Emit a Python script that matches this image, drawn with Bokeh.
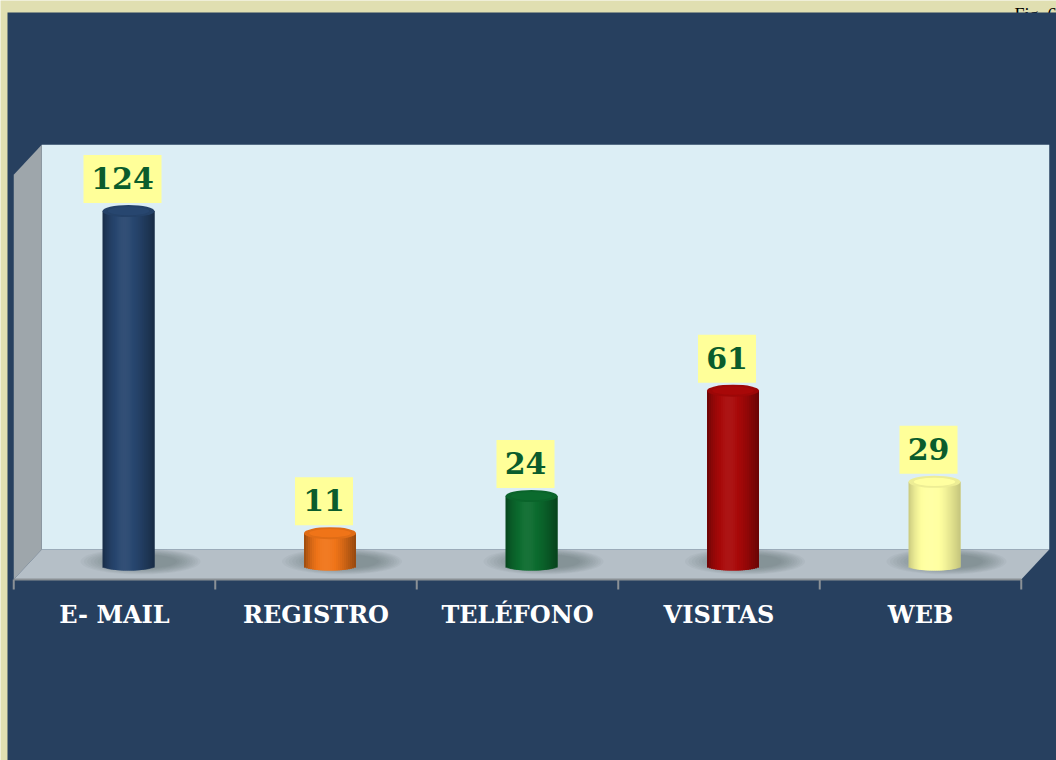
import math
from bokeh.plotting import figure
from bokeh.models import Range1d
from bokeh.core.properties import value
from bokeh.embed import file_html
from bokeh.resources import INLINE

# ---------------- data ----------------
categories = ["E- MAIL", "REGISTRO", "TELÉFONO", "VISITAS", "WEB"]
counts = [124, 11, 24, 61, 29]
bar_colors = ["#27466f", "#f07418", "#0b6b2e", "#a80808", "#ffffa0"]
wall_max = 142
fig_note = "Fig. 6"

# ---------------- geometry (pixels) ----------------
PAGE_X0, PAGE_Y0 = 0, 0
W, H = 1056, 760
CAT_PX0 = 128.0      # page x of first bar centre
CAT_STEP = 201.5     # px per category
ZERO_PY = 564.0      # page y of value 0 (mid depth)
VAL_PX = 2.85        # px per unit
DX_PX, DY_PX = 14.0, 15.0   # half depth offsets
BAR_W_PX = 52.0
ELL_H_PX = 12.0

dx = DX_PX / CAT_STEP
dy = DY_PX / VAL_PX
bw = BAR_W_PX / CAT_STEP
eh = ELL_H_PX / VAL_PX

def px_x(px):
    return (px - CAT_PX0) / CAT_STEP

def px_y(py):
    return (ZERO_PY - py) / VAL_PX

x_range = Range1d(px_x(PAGE_X0), px_x(PAGE_X0 + W))
y_range = Range1d(px_y(PAGE_Y0 + H), px_y(PAGE_Y0))

p = figure(width=W, height=H, x_range=x_range, y_range=y_range,
           x_axis_type=None, y_axis_type=None, toolbar_location=None,
           output_backend="svg", min_border=0)
p.grid.visible = False
p.outline_line_color = None
p.background_fill_color = "#e0dfb1"
p.border_fill_color = "#e0dfb1"

# note text (partly covered by the panel)
p.text(x=[px_x(1014)], y=[px_y(14)], text=[fig_note], text_font=value("Liberation Serif"),
       text_font_size="18px", text_color="#000000", text_baseline="alphabetic")

# dark panel
p.quad(left=[px_x(7)], right=[px_x(W + 2)],
       bottom=[px_y(H + 2)], top=[px_y(12)],
       fill_color="#27405f", line_color=None)

n = len(categories)
lo, hi = -0.5, n - 0.5

# back wall
p.quad(left=[lo + dx], right=[hi + dx], bottom=[dy], top=[wall_max + dy],
       fill_color="#dceef5", line_color=None)
# left wall
p.patch(x=[lo - dx, lo + dx, lo + dx, lo - dx], y=[-dy, dy, wall_max + dy, wall_max - dy],
        fill_color="#9ea6ab", line_color=None)
# floor
p.patch(x=[lo + dx, hi + dx, hi - dx, lo - dx], y=[dy, dy, -dy, -dy],
        fill_color="#b5bfc7", line_color=None)
# floor front edge + ticks
p.line(x=[lo - dx, hi - dx], y=[-dy, -dy], line_color="#8b9196", line_width=2)
tick_x = [k - 0.5 - dx for k in range(n + 1)]
p.segment(x0=tick_x, y0=[-dy] * (n + 1), x1=tick_x, y1=[-dy - 10 / VAL_PX] * (n + 1),
          line_color="#8b9196", line_width=2)

# shadows (soft, offset to the right/back)
for s in range(10):
    f = 1 - s / 10
    p.ellipse(x=[i + (12 + 4 * (1 - f)) / CAT_STEP for i in range(n)], y=[3 / VAL_PX] * n,
              width=(60 + 60 * f) / CAT_STEP, height=(12 + 14 * f) / VAL_PX,
              fill_color="#56606a", fill_alpha=0.06, line_color=None)

def hex_rgb(h):
    h = h.lstrip("#")
    return [int(h[i:i + 2], 16) for i in (0, 2, 4)]

def shade(h, k):
    r = hex_rgb(h)
    out = []
    for c in r:
        if k < 1:
            v = c * k
        else:
            v = c + (255 - c) * (k - 1)
        out.append(max(0, min(255, int(round(v)))))
    return "#%02x%02x%02x" % tuple(out)

# cylinder bodies as overlapping vertical strips
NS = 26
OVL = 2.0 / CAT_STEP
sl, sr, sb, st, sc = [], [], [], [], []
for i, (v, col) in enumerate(zip(counts, bar_colors)):
    light = sum(hex_rgb(col)) / 3 > 180
    for j in range(NS):
        t0, t1 = j / NS, (j + 1) / NS
        t = (t0 + t1) / 2
        u = t ** (math.log(0.5) / math.log(0.42))
        k = 0.62 + 0.43 * math.sin(math.pi * u)
        if light and k < 1:
            k = 1 - (1 - k) * 0.6
        right = i - bw / 2 + t1 * bw
        te = t1
        if j < NS - 1:
            right += OVL
            te = min(1.0, t1 + OVL / bw)
        xa = abs((t0 - 0.5) * 2)
        xb = abs((te - 0.5) * 2)
        xm = min(xa, xb) if (t0 - 0.5) * (te - 0.5) > 0 else 0.0
        sl.append(i - bw / 2 + t0 * bw)
        sr.append(right)
        sb.append(-(eh / 2) * math.sqrt(max(0.0, 1 - xm * xm)))
        st.append(v)
        sc.append(shade(col, k))
p.quad(left=sl, right=sr, bottom=sb, top=st, fill_color=sc, line_color=None)

# cylinder tops
p.ellipse(x=list(range(n)), y=counts, width=bw, height=eh,
          fill_color=[shade(c, 0.93) for c in bar_colors], line_color=None)
p.ellipse(x=list(range(n)), y=counts, width=bw * 0.8, height=eh * 0.7,
          fill_color=[shade(c, 1.0) for c in bar_colors], line_color=None)

# value labels: yellow boxes + text
LBL_OFF_X = -6 / CAT_STEP
BOX_H_PX = 48
box_w_px = [18 + 20 * len(str(v)) for v in counts]
box_cy = [v + (ELL_H_PX / 2 + 2 + BOX_H_PX / 2) / VAL_PX for v in counts]
p.rect(x=[i + LBL_OFF_X for i in range(n)], y=box_cy, width=box_w_px, height=BOX_H_PX,
       width_units="screen", height_units="screen",
       fill_color="#ffff99", line_color=None)
p.text(x=[i + LBL_OFF_X for i in range(n)], y=[c + 1 / VAL_PX for c in box_cy],
       text=[str(v) for v in counts],
       text_align="center", text_baseline="middle",
       text_font=value("DejaVu Serif"), text_font_style="bold",
       text_font_size="30px", text_color="#0a5c2c")

# category labels
p.text(x=[i - dx for i in range(n)], y=[-dy - 35 / VAL_PX] * n, text=categories,
       text_align="center", text_baseline="middle",
       text_font=value("DejaVu Serif"), text_font_style="bold",
       text_font_size="24px", text_color="#ffffff")

open("out.html", "w").write(file_html(p, INLINE))
